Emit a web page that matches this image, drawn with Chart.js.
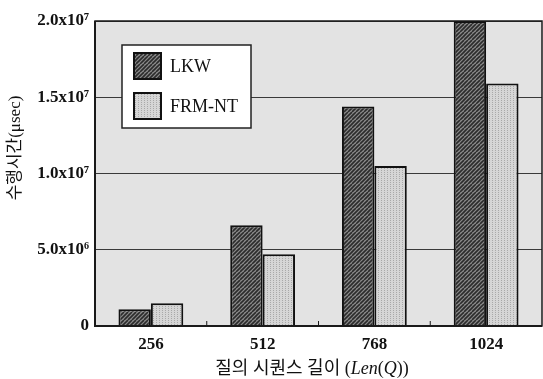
<!DOCTYPE html>
<html>
<head>
<meta charset="utf-8">
<script src="https://cdn.jsdelivr.net/npm/chart.js@4/dist/chart.umd.min.js"></script>
<style>
  html, body { margin: 0; padding: 0; background: #fff; }
  #wrap { width: 543px; height: 379px; }
</style>
</head>
<body>
<div id="wrap"><canvas id="time-chart" width="543" height="379"></canvas></div>
<script>
const categories = ['256', '512', '768', '1024'];
const lkwValues = [1.1e6, 6.6e6, 1.44e7, 2.0e7];
const frmValues = [1.5e6, 4.7e6, 1.05e7, 1.59e7];
const seriesNames = ['LKW', 'FRM-NT'];
const yTickLabels = ['0', '5.0x10⁶', '1.0x10⁷', '1.5x10⁷', '2.0x10⁷'];
const yTitle = '수행시간(μsec)';
// x title pieces: [text, italic]
const xTitleParts = [['질의 시퀀스 길이 (', false], ['Len', true], ['(', false], ['Q', true], ['))', false]];

const SERIF = '"Liberation Serif", "Noto Sans CJK KR", serif';

function makePattern(draw, w, h) {
  const c = document.createElement('canvas');
  c.width = w;
  c.height = h;
  draw(c.getContext('2d'), w, h);
  return c.getContext('2d').createPattern(c, 'repeat');
}

// dark diagonal hatch
const lkwFill = makePattern((g, w, h) => {
  g.fillStyle = '#8c8c8c';
  g.fillRect(0, 0, w, h);
  g.strokeStyle = '#2b2b2b';
  g.lineWidth = 1.6;
  for (let k = -h; k < w + h; k += 4) {
    g.beginPath();
    g.moveTo(k, h);
    g.lineTo(k + h, 0);
    g.stroke();
  }
}, 8, 8);

// light vertical dotted stripes
const frmFill = makePattern((g, w, h) => {
  g.fillStyle = '#d6d6d6';
  g.fillRect(0, 0, w, h);
  g.fillStyle = '#a9a9a9';
  for (let x = 0; x < w; x += 3) {
    for (let y = 0; y < h; y += 2) {
      g.fillRect(x, y, 1, 1);
    }
  }
}, 6, 4);

const plotDecor = {
  id: 'plotDecor',
  beforeDraw(chart) {
    const { ctx, chartArea: a } = chart;
    ctx.save();
    ctx.fillStyle = '#e3e3e3';
    ctx.fillRect(a.left, a.top, a.right - a.left, a.bottom - a.top);
    ctx.restore();
  },
  afterDraw(chart) {
    const { ctx, chartArea: a } = chart;
    const x = chart.scales.x;
    ctx.save();
    // frame
    ctx.strokeStyle = '#1a1a1a';
    ctx.lineWidth = 1.5;
    ctx.strokeRect(a.left, a.top, a.right - a.left, a.bottom - a.top);
    ctx.lineWidth = 2;
    ctx.beginPath();
    ctx.moveTo(a.left, a.top);
    ctx.lineTo(a.left, a.bottom);
    ctx.lineTo(a.right, a.bottom);
    ctx.stroke();
    // small inward ticks between categories
    ctx.lineWidth = 1;
    for (let i = 0; i < categories.length - 1; i++) {
      const px = (x.getPixelForValue(i) + x.getPixelForValue(i + 1)) / 2;
      ctx.beginPath();
      ctx.moveTo(px, a.bottom);
      ctx.lineTo(px, a.bottom - 5);
      ctx.stroke();
    }
    // legend box
    const lx = a.left + 27, ly = a.top + 24;
    ctx.fillStyle = '#fff';
    ctx.fillRect(lx, ly, 129, 83);
    ctx.strokeStyle = '#222';
    ctx.lineWidth = 1.5;
    ctx.strokeRect(lx, ly, 129, 83);
    const fills = [lkwFill, frmFill];
    ctx.font = '18px ' + SERIF;
    ctx.textBaseline = 'middle';
    seriesNames.forEach((name, i) => {
      const sy = ly + 8 + i * 40;
      ctx.fillStyle = fills[i];
      ctx.fillRect(lx + 12, sy, 27, 26);
      ctx.strokeStyle = '#111';
      ctx.lineWidth = 2;
      ctx.strokeRect(lx + 12, sy, 27, 26);
      ctx.fillStyle = '#111';
      ctx.fillText(name, lx + 48, sy + 14);
    });

    // y axis title
    ctx.fillStyle = '#111';
    ctx.save();
    ctx.translate(16, 148);
    ctx.rotate(-Math.PI / 2);
    ctx.font = '17px ' + SERIF;
    ctx.textAlign = 'center';
    ctx.textBaseline = 'middle';
    ctx.fillText(yTitle, 0, 0);
    ctx.restore();

    // x axis title, with italic parts
    const fontFor = (it) => (it ? 'italic ' : '') + '18px ' + SERIF;
    let total = 0;
    xTitleParts.forEach(([t, it]) => { ctx.font = fontFor(it); total += ctx.measureText(t).width; });
    let cx = 312 - total / 2;
    ctx.textAlign = 'left';
    ctx.textBaseline = 'middle';
    xTitleParts.forEach(([t, it]) => {
      ctx.font = fontFor(it);
      ctx.fillText(t, cx, 369);
      cx += ctx.measureText(t).width;
    });
    ctx.restore();
  }
};

new Chart(document.getElementById('time-chart'), {
  type: 'bar',
  data: {
    labels: categories,
    datasets: [
      {
        label: seriesNames[0],
        data: lkwValues,
        backgroundColor: lkwFill,
        borderColor: '#111',
        borderWidth: 2,
        borderSkipped: 'bottom',
      },
      {
        label: seriesNames[1],
        data: frmValues,
        backgroundColor: frmFill,
        borderColor: '#111',
        borderWidth: 2,
        borderSkipped: 'bottom',
      },
    ],
  },
  options: {
    responsive: false,
    animation: false,
    layout: { padding: { top: 21, right: 1, left: 0, bottom: 0 } },
    datasets: { bar: { barPercentage: 1, categoryPercentage: 0.58 } },
    plugins: {
      legend: { display: false },
      tooltip: { enabled: false },
    },
    scales: {
      x: {
        grid: { display: false },
        border: { display: false },
        ticks: {
          color: '#111',
          font: { family: SERIF, size: 17, weight: 'bold' },
          padding: 0,
          maxRotation: 0,
        },
        afterFit(s) { s.height = 53; },
      },
      y: {
        min: 0,
        max: 2.0e7,
        grid: { color: '#3a3a3a', lineWidth: 1, drawTicks: false },
        border: { display: false },
        ticks: {
          stepSize: 5e6,
          padding: 6,
          color: '#111',
          font: { family: SERIF, size: 17, weight: 'bold' },
          callback: (v, i) => yTickLabels[i],
        },
        afterFit(s) { s.width = 95; },
      },
    },
  },
  plugins: [plotDecor],
});
</script>
</body>
</html>
